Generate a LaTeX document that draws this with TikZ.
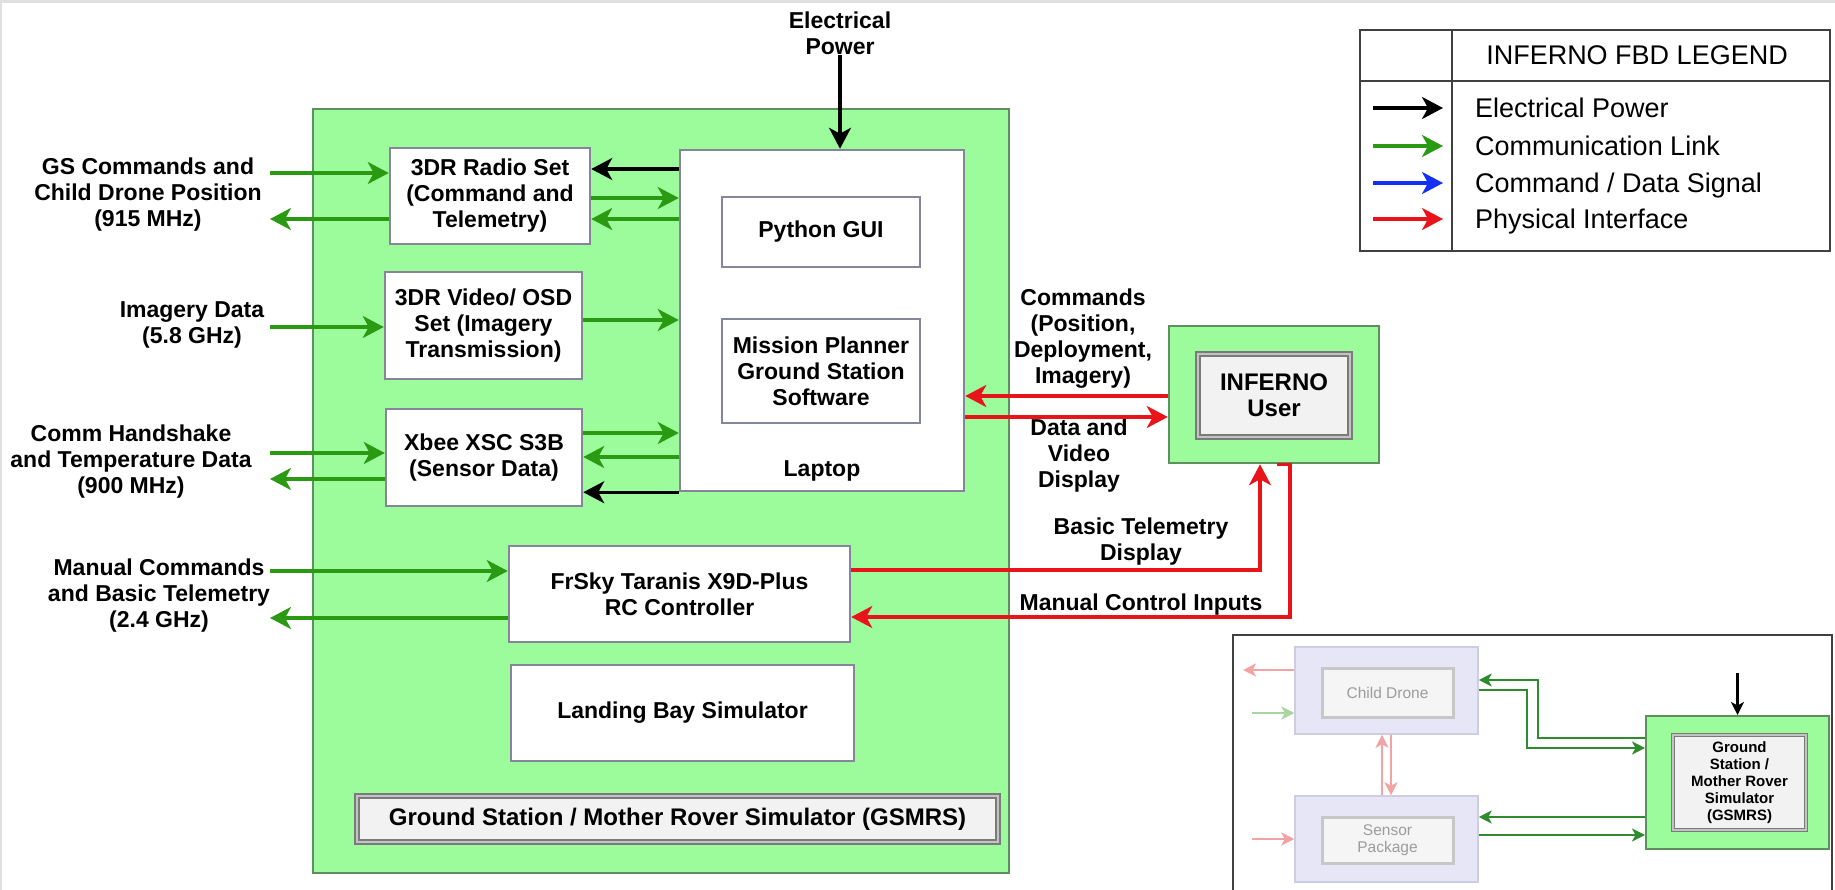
\documentclass[tikz,border=0pt]{standalone}
\usepackage{fontspec}
\setmainfont{Liberation Sans}
\usetikzlibrary{arrows.meta,positioning}
\definecolor{gsgreen}{HTML}{9CFC9C}
\definecolor{gsedge}{HTML}{5E8F5E}
\definecolor{boxedge}{HTML}{85859C}
\definecolor{commgreen}{HTML}{2A9A12}
\definecolor{physred}{HTML}{E8141A}
\definecolor{cmdblue}{HTML}{1230F5}
\definecolor{dblgray}{HTML}{7A7A7A}
\definecolor{dblfill}{HTML}{F2F2F2}
\definecolor{lavfill}{HTML}{E6E6F7}
\definecolor{lavedge}{HTML}{CDCDE3}
\definecolor{fadegray}{HTML}{9C9C9C}
\definecolor{minigreen}{HTML}{2E8B2E}
\definecolor{pinkred}{HTML}{F2A3A3}
\definecolor{palegreen}{HTML}{A9D6A0}
\newcommand\blkfont{\fontsize{23}{26}\selectfont\bfseries}
\newcommand\bigblkfont{\fontsize{24}{26}\selectfont\bfseries}
\newcommand\lgdfont{\fontsize{27}{30}\selectfont}
\newcommand\minifont{\fontsize{15}{17}\selectfont\bfseries}
\newcommand\fadefont{\fontsize{15.5}{17}\selectfont}
\tikzset{every node/.style={inner sep=0pt},
  gsbox/.style={draw=gsedge,fill=gsgreen,line width=2.5pt},
  blk/.style={draw=boxedge,fill=white,line width=2.5pt,align=center,font=\blkfont},
  dblbox/.style={draw=dblgray,line width=1.6pt,double=dblgray!45,double distance=2.4pt,
    fill=dblfill,align=center,font=\bigblkfont},
  txt/.style={align=center,font=\blkfont},
  arrowhd/.style={-{Stealth[length=21pt,width=22pt,inset=6pt]}},
  pwr/.style={arrowhd,draw=black,line width=3.2pt},
  comm/.style={arrowhd,draw=commgreen,line width=3.2pt},
  cmd/.style={arrowhd,draw=cmdblue,line width=3.2pt},
  phys/.style={arrowhd,draw=physred,line width=3.2pt},
  lgdline/.style={draw=black!75,line width=2pt},
  lgdtxt/.style={font=\lgdfont},
  minibox/.style={draw=lavedge,fill=lavfill,line width=1.5pt},
  miniin/.style={draw=black!22,fill=black!4,line width=3pt,align=center,
    text=fadegray,font=\fadefont},
  minitip/.style={-{Stealth[length=13pt,width=13pt,inset=3.5pt]}},
  mpwr/.style={minitip,draw=black,line width=2.2pt},
  mcomm/.style={minitip,draw=minigreen,line width=2.2pt},
  mpink/.style={minitip,draw=pinkred,line width=2.2pt},
  mpale/.style={minitip,draw=palegreen,line width=2.2pt}}

\begin{document}
\begin{tikzpicture}[x=1pt,y=-1pt]
\useasboundingbox (0,0) rectangle (1835,890);
\fill[black!12] (0,0) rectangle (1835,890);
\fill[white] (1.5,3) rectangle (1835,890);
% ground station / mother rover simulator
\node[gsbox,minimum width=696,minimum height=764] (gsmrs) at (661,491) {};
\node[blk,minimum width=284,minimum height=341] (laptop) at (822,320.5) {};
\node[blk,minimum width=198,minimum height=70] (python) at (821,232) {Python GUI};
\node[blk,minimum width=198,minimum height=104] (mission) at (821,371) {Mission Planner\\Ground Station\\Software};
\node[txt] (laplbl) at (822,471) {Laptop};
\node[blk,minimum width=200,minimum height=96] (radio) at (490,196) {3DR Radio Set\\(Command and\\Telemetry)};
\node[blk,minimum width=197,minimum height=107] (video) at (483.5,325.5) {3DR Video/ OSD\\Set (Imagery\\Transmission)};
\node[blk,minimum width=196,minimum height=97] (xbee) at (484,457.5) {Xbee XSC S3B\\(Sensor Data)};
\node[blk,minimum width=341,minimum height=96] (frsky) at (679.5,594) {FrSky Taranis X9D-Plus\\RC Controller};
\node[blk,minimum width=343,minimum height=96] (landing) at (682.5,713) {Landing Bay Simulator};
\node[dblbox,minimum width=641,minimum height=46] (gslbl) at (677.5,819) {Ground Station / Mother Rover Simulator (GSMRS)};
% user
\node[gsbox,minimum width=210,minimum height=137] (user) at (1274,394.5) {};
\node[dblbox,minimum width=152,minimum height=83] (userin) at (1274,395.5) {INFERNO\\User};

% outside labels
\node[txt] (pwrlbl) at (840,33) {Electrical\\Power};
\node[txt] (gscmd) at (148,195) {GS Commands and\\Child Drone Position\\(915 MHz)};
\node[txt] (imgdata) at (192,325) {Imagery Data\\(5.8 GHz)};
\node[txt] (handshake) at (131,462) {Comm Handshake\\and Temperature Data\\(900 MHz)};
\node[txt] (mancmd) at (159,596) {Manual Commands\\and Basic Telemetry\\(2.4 GHz)};
\node[txt] (cmdlbl) at (1083,339) {Commands\\(Position,\\Deployment,\\Imagery)};
\node[txt] (dvlbl) at (1079,456) {Data and\\Video\\Display};
\node[txt] (btlbl) at (1141,542) {Basic Telemetry\\Display};
\node[txt] (mcilbl) at (1141,605) {Manual Control Inputs};
\coordinate (lft) at (270,0);

% connectors
\draw[pwr] (pwrlbl.south) -- (pwrlbl.south |- laptop.north);
\draw[comm] (lft |- 0,173) -- (radio.west |- 0,173);
\draw[comm] (radio.west |- 0,219) -- (lft |- 0,219);
\draw[comm] (lft |- 0,327) -- (video.west |- 0,327);
\draw[comm] (lft |- 0,453) -- (xbee.west |- 0,453);
\draw[comm] (xbee.west |- 0,479) -- (lft |- 0,479);
\draw[comm] (lft |- 0,571) -- (frsky.west |- 0,571);
\draw[comm] (frsky.west |- 0,618) -- (lft |- 0,618);
\draw[pwr] (laptop.west |- 0,169) -- (radio.east |- 0,169);
\draw[comm] (radio.east |- 0,198) -- (laptop.west |- 0,198);
\draw[comm] (laptop.west |- 0,219) -- (radio.east |- 0,219);
\draw[comm] (video.east |- 0,320) -- (laptop.west |- 0,320);
\draw[comm] (xbee.east |- 0,433) -- (laptop.west |- 0,433);
\draw[comm] (laptop.west |- 0,457) -- (xbee.east |- 0,457);
\draw[pwr] (laptop.south west) -- (xbee.east |- laptop.south west);
\draw[phys] (user.west |- 0,396) -- (laptop.east |- 0,396);
\draw[phys] (laptop.east |- 0,417) -- (user.west |- 0,417);
\draw[phys] (frsky.east |- 0,570) -| ([xshift=-14]user.south);
\draw[phys] ([xshift=3]user.south) -- ([xshift=16]user.south) |- (frsky.east |- 0,617);

% legend
\node[lgdline,draw,minimum width=470,minimum height=221] (legend) at (1595,140.5) {};
\draw[lgdline] (legend.north west) ++(93,0) -- ++(0,221);
\draw[lgdline] (legend.north west) ++(0,52) -- ++(470,0);
\node[lgdtxt,anchor=base] (lgdtitle) at (1637,64.5) {INFERNO FBD LEGEND};
\foreach \y/\sty/\lab [count=\i] in {108/pwr/{Electrical Power},146/comm/{Communication Link},
    183/cmd/{Command / Data Signal},219/phys/{Physical Interface}}{
  \node[lgdtxt,anchor=base west] (lgd\i) at (1475,\y+9.5) {\lab};
  \draw[\sty] (1373,\y) -- (1443,\y);}

% context inset
\draw[draw=black!75,line width=2pt] (1233,635) rectangle (1832,900);
\node[minibox,minimum width=183,minimum height=87] (child) at (1386.5,690.5) {};
\node[miniin,minimum width=131,minimum height=49] (childin) at (1387.5,692.5) {Child Drone};
\node[minibox,minimum width=183,minimum height=86] (sensor) at (1386.5,839) {};
\node[miniin,minimum width=131,minimum height=46] (sensorin) at (1387.5,840) {Sensor\\Package};
\node[gsbox,line width=2pt,minimum width=183,minimum height=133] (gsmini) at (1737.5,782.5) {};
\node[dblbox,line width=1pt,double distance=1.5pt,minimum width=133,minimum height=95,font=\minifont] (gsminiin) at (1739.5,782.5) {Ground\\Station /\\Mother Rover\\Simulator\\(GSMRS)};
\draw[mpwr] (gsmini.north |- 0,673) -- (gsmini.north);
\draw[mcomm] (gsmini.west |- 0,738) -| (1538,680) -- (child.east |- 0,680);
\draw[mcomm] (child.east |- 0,690) -| (1527,748) -- (gsmini.west |- 0,748);
\draw[mcomm] (gsmini.west |- 0,817) -- (sensor.east |- 0,817);
\draw[mcomm] (sensor.east |- 0,835) -- (gsmini.west |- 0,835);
\draw[mpink] (child.west |- 0,670) -- (1243,670);
\draw[mpale] (1252,713) -- (child.west |- 0,713);
\draw[mpink] (1252,839) -- (sensor.west |- 0,839);
\draw[mpink] (sensor.north -| 1382,0) -- (child.south -| 1382,0);
\draw[mpink] (child.south -| 1391,0) -- (sensor.north -| 1391,0);
\end{tikzpicture}
\end{document}
